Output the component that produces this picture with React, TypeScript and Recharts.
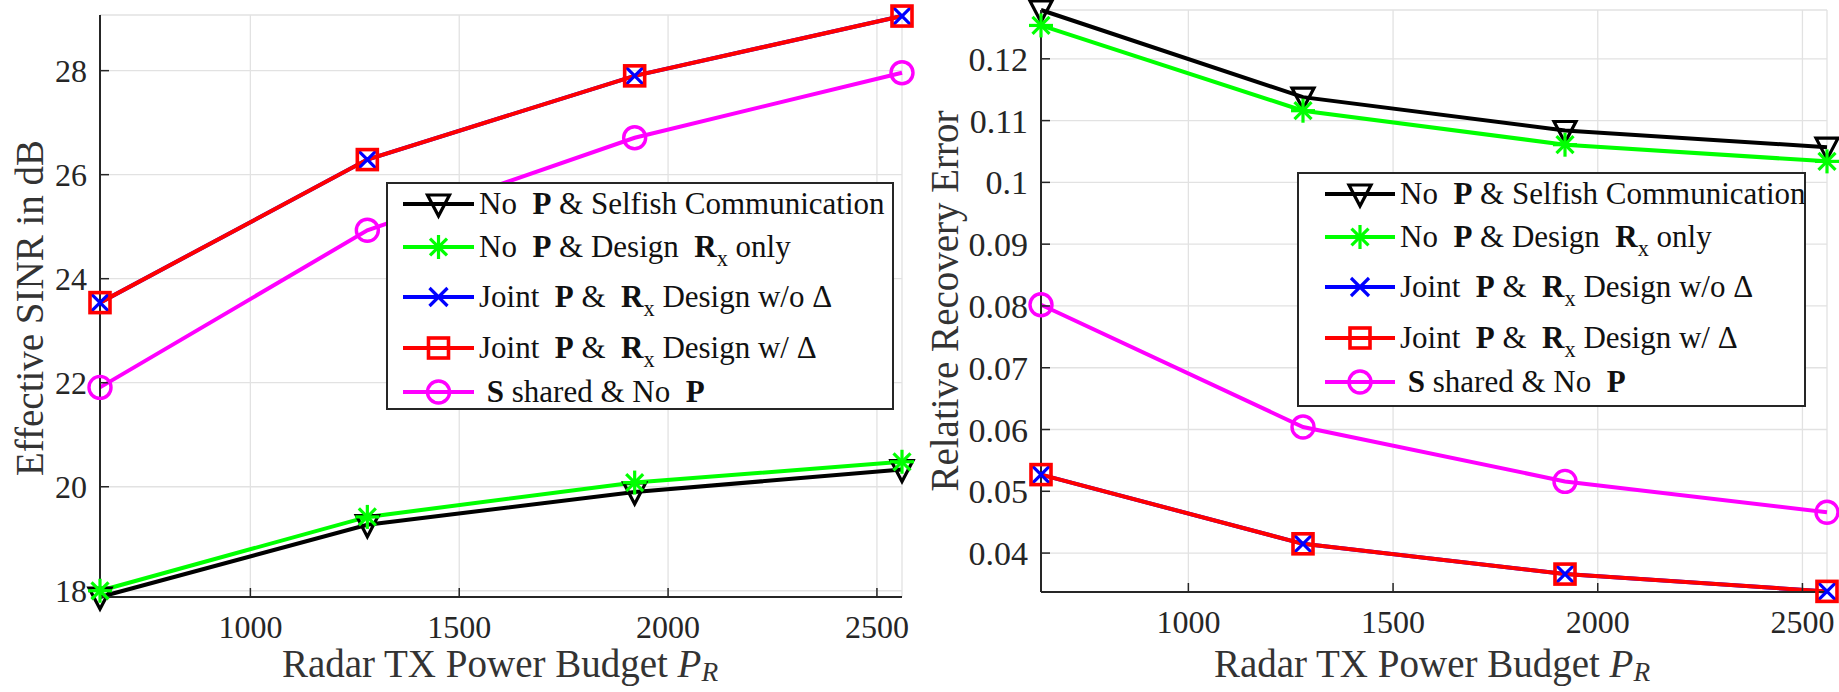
import React from 'react';
import { LineChart, Line, XAxis, YAxis, CartesianGrid } from 'recharts';

// ---------- data ----------
const xValues = [640, 1280, 1920, 2560];
const xTicks = [1000, 1500, 2000, 2500];

const sinrSelfish = [17.88, 19.27, 19.9, 20.33];
const sinrRxOnly = [18.0, 19.42, 20.08, 20.48];
const sinrJointNoDelta = [23.54, 26.29, 27.9, 29.05];
const sinrJointDelta = [23.54, 26.29, 27.9, 29.05];
const sinrShared = [21.91, 24.93, 26.71, 27.96];
const sinrTicks = [18, 20, 22, 24, 26, 28];
const sinrDomain = [17.88, 29.07];

const errSelfish = [0.1279, 0.1138, 0.1084, 0.1057];
const errRxOnly = [0.1254, 0.1116, 0.1061, 0.1034];
const errJointNoDelta = [0.0527, 0.0415, 0.0366, 0.0338];
const errJointDelta = [0.0527, 0.0415, 0.0366, 0.0338];
const errShared = [0.0802, 0.0604, 0.0516, 0.0466];
const errTicks = [0.04, 0.05, 0.06, 0.07, 0.08, 0.09, 0.1, 0.11, 0.12];
const errDomain = [0.0337, 0.1279];

const seriesKeys = ['selfish', 'rxOnly', 'jointNoDelta', 'jointDelta', 'shared'];
const seriesColors = ['#000000', '#00ff00', '#0000ff', '#ff0000', '#ff00ff'];
const seriesShapes = ['triangle', 'asterisk', 'cross', 'square', 'circle'];

const xLabelText = 'Radar TX Power Budget ';
const leftYLabel = 'Effective SINR in dB';
const rightYLabel = 'Relative Recovery Error';

// ---------- helpers ----------
const buildRows = (series: number[][]) =>
  xValues.map((x, i) => {
    const row: any = { x };
    seriesKeys.forEach((k, j) => (row[k] = series[j][i]));
    return row;
  });

const sinrRows = buildRows([sinrSelfish, sinrRxOnly, sinrJointNoDelta, sinrJointDelta, sinrShared]);
const errRows = buildRows([errSelfish, errRxOnly, errJointNoDelta, errJointDelta, errShared]);

const AXIS = '#262626';
const FONT = '"Liberation Serif", "Times New Roman", Times, serif';

function Marker({ shape, color, cx, cy }: any) {
  const sw = 3.2;
  switch (shape) {
    case 'triangle':
      return (
        <polygon
          points={`${cx - 11},${cy - 9} ${cx + 11},${cy - 9} ${cx},${cy + 12}`}
          fill="none"
          stroke={color}
          strokeWidth={sw}
        />
      );
    case 'asterisk': {
      const r = 12;
      const d = r * 0.7071;
      return (
        <g stroke={color} strokeWidth={sw}>
          <line x1={cx - r} y1={cy} x2={cx + r} y2={cy} />
          <line x1={cx} y1={cy - r} x2={cx} y2={cy + r} />
          <line x1={cx - d} y1={cy - d} x2={cx + d} y2={cy + d} />
          <line x1={cx - d} y1={cy + d} x2={cx + d} y2={cy - d} />
        </g>
      );
    }
    case 'cross': {
      const r = 9;
      return (
        <g stroke={color} strokeWidth={sw}>
          <line x1={cx - r} y1={cy - r} x2={cx + r} y2={cy + r} />
          <line x1={cx - r} y1={cy + r} x2={cx + r} y2={cy - r} />
        </g>
      );
    }
    case 'square':
      return <rect x={cx - 10} y={cy - 10} width={20} height={20} fill="none" stroke={color} strokeWidth={3.6} />;
    case 'circle':
      return <circle cx={cx} cy={cy} r={11} fill="none" stroke={color} strokeWidth={3.4} />;
    default:
      return null;
  }
}

const makeDot = (shape: string, color: string) => (props: any) => {
  const { cx, cy, index } = props;
  if (cx == null || cy == null) return <g key={`d-${index}`} />;
  return (
    <g key={`d-${shape}-${index}`}>
      <Marker shape={shape} color={color} cx={cx} cy={cy} />
    </g>
  );
};

const errFmt = (v: number) => String(Number(v.toFixed(2)));

function Panel({ data, yDomain, yTicks, yFmt, yFont, width, height, margin, yAxisWidth, xAxisHeight }: any) {
  const xTickStyle = { fill: AXIS, fontSize: 32, fontFamily: FONT };
  const yTickStyle = { fill: AXIS, fontSize: yFont, fontFamily: FONT };
  return (
    <LineChart width={width} height={height} data={data} margin={margin}>
      <CartesianGrid stroke="#e2e2e2" strokeWidth={1.3} />
      <XAxis
        dataKey="x"
        type="number"
        domain={[640, 2560]}
        ticks={xTicks}
        interval={0}
        height={xAxisHeight}
        tickSize={-9}
        tickMargin={27}
        axisLine={{ stroke: AXIS, strokeWidth: 2 }}
        tickLine={{ stroke: AXIS, strokeWidth: 1.5 }}
        tick={xTickStyle}
      />
      <XAxis
        xAxisId="t"
        dataKey="x"
        type="number"
        orientation="top"
        domain={[640, 2560]}
        ticks={xTicks}
        interval={0}
        height={0}
        tickSize={-9}
        axisLine={{ stroke: AXIS, strokeWidth: 2 }}
        tickLine={{ stroke: AXIS, strokeWidth: 1.5 }}
        tick={() => <g />}
      />
      <YAxis
        type="number"
        domain={yDomain}
        ticks={yTicks}
        interval={0}
        width={yAxisWidth}
        tickSize={-9}
        tickMargin={22}
        tickFormatter={yFmt}
        axisLine={{ stroke: AXIS, strokeWidth: 2 }}
        tickLine={{ stroke: AXIS, strokeWidth: 1.5 }}
        tick={yTickStyle}
      />
      <YAxis
        yAxisId="r"
        type="number"
        orientation="right"
        domain={yDomain}
        ticks={yTicks}
        interval={0}
        width={0}
        tickSize={-9}
        axisLine={{ stroke: AXIS, strokeWidth: 2 }}
        tickLine={{ stroke: AXIS, strokeWidth: 1.5 }}
        tick={() => <g />}
      />
      {seriesKeys.map((k, i) => (
        <Line
          key={k}
          dataKey={k}
          type="linear"
          stroke={seriesColors[i]}
          strokeWidth={4}
          dot={makeDot(seriesShapes[i], seriesColors[i])}
          activeDot={false}
          isAnimationActive={false}
        />
      ))}
    </LineChart>
  );
}

const sub = (t: string) => (
  <span style={{ fontSize: '0.72em', position: 'relative', top: '0.42em', fontWeight: 'normal' }}>{t}</span>
);

const legendTexts = [
  <>
    No{'  '}<b>P</b> &amp; Selfish Communication
  </>,
  <>
    No{'  '}<b>P</b> &amp; Design{'  '}<b>R</b>{sub('x')} only
  </>,
  <>
    Joint{'  '}<b>P</b> &amp;{'  '}<b>R</b>{sub('x')}{' '}Design w/o Δ
  </>,
  <>
    Joint{'  '}<b>P</b> &amp;{'  '}<b>R</b>{sub('x')}{' '}Design w/ Δ
  </>,
  <>
    {' '}<b>S</b> shared &amp; No{'  '}<b>P</b>
  </>,
];

const legendRowOffsets = [22, 65, 115, 166, 210];

function Legend({ left, top, width, height, s0, s1, textX }: any) {
  return (
    <div
      style={{
        position: 'absolute',
        left,
        top,
        width,
        height,
        background: '#fff',
        border: `2px solid ${AXIS}`,
        boxSizing: 'border-box',
      }}
    >
      <svg width={width} height={height} style={{ position: 'absolute', left: -2, top: -2 }}>
        {legendRowOffsets.map((y, i) => (
          <g key={i}>
            <line x1={s0} y1={y} x2={s1} y2={y} stroke={seriesColors[i]} strokeWidth={4} />
            <Marker shape={seriesShapes[i]} color={seriesColors[i]} cx={(s0 + s1) / 2} cy={y} />
          </g>
        ))}
      </svg>
      {legendRowOffsets.map((y, i) => (
        <div
          key={i}
          style={{
            position: 'absolute',
            left: textX - 2,
            top: y - 2 - 16,
            height: 32,
            lineHeight: '32px',
            fontSize: 31,
            fontFamily: FONT,
            color: '#111',
            whiteSpace: 'pre',
          }}
        >
          {legendTexts[i]}
        </div>
      ))}
    </div>
  );
}

const labelStyle: any = {
  position: 'absolute',
  fontFamily: FONT,
  fontSize: 39,
  color: '#333',
  whiteSpace: 'pre',
  lineHeight: '36px',
};

function XLabel({ cx, cy }: any) {
  return (
    <div style={{ ...labelStyle, left: cx, top: cy, transform: 'translate(-50%, -50%)' }}>
      {xLabelText}
      <i>P</i>
      <span style={{ fontSize: '0.7em', position: 'relative', top: '0.14em' }}>
        <i>R</i>
      </span>
    </div>
  );
}

function YLabel({ cx, cy, text }: any) {
  return (
    <div style={{ ...labelStyle, left: cx, top: cy, transform: 'translate(-50%, -50%) rotate(-90deg)' }}>
      {text}
    </div>
  );
}

export default function App() {
  return (
    <div style={{ position: 'absolute', left: 0, top: 0, width: 1839, height: 692, background: '#fff', overflow: 'hidden' }}>
      <div style={{ position: 'absolute', left: 0, top: 0 }}>
        <Panel
          data={sinrRows}
          yDomain={sinrDomain}
          yTicks={sinrTicks}
          yFmt={(v: number) => String(v)}
          yFont={32}
          width={920}
          height={692}
          margin={{ top: 15, right: 18, left: 0, bottom: 0 }}
          yAxisWidth={100}
          xAxisHeight={95}
        />
      </div>
      <div style={{ position: 'absolute', left: 920, top: 0 }}>
        <Panel
          data={errRows}
          yDomain={errDomain}
          yTicks={errTicks}
          yFmt={errFmt}
          yFont={34}
          width={919}
          height={692}
          margin={{ top: 10, right: 12, left: 0, bottom: 0 }}
          yAxisWidth={121}
          xAxisHeight={100}
        />
      </div>
      <Legend left={386} top={182} width={508} height={228} s0={17} s1={88} textX={93} />
      <Legend left={1297} top={172} width={509} height={235} s0={28} s1={98} textX={103} />
      <XLabel cx={500} cy={666} />
      <XLabel cx={1432} cy={666} />
      <YLabel cx={30} cy={308} text={leftYLabel} />
      <YLabel cx={945} cy={301} text={rightYLabel} />
    </div>
  );
}
